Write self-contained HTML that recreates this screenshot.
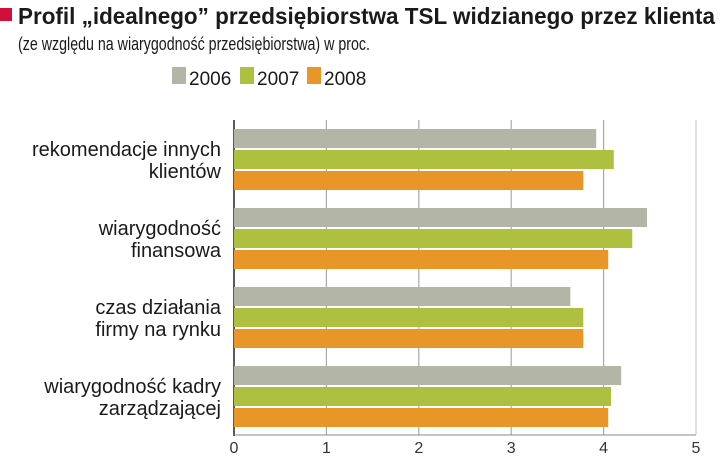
<!DOCTYPE html>
<html><head><meta charset="utf-8"><style>
body{margin:0;background:#fff;width:720px;height:458px;overflow:hidden}
svg{display:block;font-family:"Liberation Sans Narrow","Liberation Sans",sans-serif}
</style></head><body>
<svg id="chart" width="720" height="458" viewBox="0 0 720 458">
<rect x="0" y="8" width="12" height="13" fill="#d0103a"/>
<text x="18" y="24" font-size="23" font-weight="bold" fill="#1a1a1a" textLength="697" lengthAdjust="spacingAndGlyphs">Profil „idealnego” przedsiębiorstwa TSL widzianego przez klienta</text>
<text x="18" y="50" font-size="18" fill="#1a1a1a" textLength="352" lengthAdjust="spacingAndGlyphs">(ze względu na wiarygodność przedsiębiorstwa) w proc.</text>
<g id="legend"></g>
<g id="grid"></g>
<g id="bars"></g>
<g id="labels"></g>
</svg>
<script>
const categories=[["rekomendacje innych","klientów"],["wiarygodność","finansowa"],["czas działania","firmy na rynku"],["wiarygodność kadry","zarządzającej"]];
const seriesNames=["2006","2007","2008"];
const s2006=[3.92,4.47,3.64,4.19];
const s2007=[4.11,4.31,3.78,4.08];
const s2008=[3.78,4.05,3.78,4.05];
const ticks=[0,1,2,3,4,5];
const series=[s2006,s2007,s2008];
const colors=["#b3b5a6","#afc040","#e99629"];
const NS="http://www.w3.org/2000/svg";
const x0=234,x1=696,yTop=120,yBot=435,gStart=129,gStep=79,barH=19,barGap=2;
const xs=v=>x0+(v-ticks[0])/(ticks[ticks.length-1]-ticks[0])*(x1-x0);
function mk(tag,attrs,parent){const e=document.createElementNS(NS,tag);for(const k in attrs)e.setAttribute(k,attrs[k]);parent.appendChild(e);return e;}
const grid=document.getElementById('grid');
ticks.forEach((t,i)=>{
  if(i>0){const l=mk('line',{x1:xs(t),x2:xs(t),y1:yTop,y2:yBot,stroke:i===ticks.length-1?'#cfcfcf':'#a8a8a8','stroke-width':1.2},grid);
  
  }
  const tx=mk('text',{x:xs(t),y:453,'font-size':16,fill:'#333','text-anchor':'middle'},grid);
  tx.textContent=t;
  
  
});
const bars=document.getElementById('bars');
categories.forEach((c,ci)=>{
  series.forEach((s,si)=>{
    const y=gStart+ci*gStep+si*(barH+barGap);
    const r=mk('rect',{x:x0,y:y,width:xs(s[ci])-x0,height:barH,fill:colors[si]},bars);
    
    
  });
});
const ax=mk('line',{x1:x0,x2:x0,y1:yTop,y2:yBot+1,stroke:'#222','stroke-width':1.5},grid);


const bx=mk('line',{x1:x0,x2:x1,y1:yBot,y2:yBot,stroke:'#888','stroke-width':1},grid);


const labels=document.getElementById('labels');
categories.forEach((c,ci)=>{
  const cy=gStart+ci*gStep+30;
  c.forEach((line,li)=>{
    const t=mk('text',{x:221,y:cy-3+li*22,'font-size':20,fill:'#1a1a1a','text-anchor':'end'},labels);
    t.textContent=line;
    
    
  });
});
const legend=document.getElementById('legend');
const lx=[172,240,307];
seriesNames.forEach((n,i)=>{
  const r=mk('rect',{x:lx[i],y:67,width:14,height:17,fill:colors[i]},legend);
  
  
  const t=mk('text',{x:lx[i]+17,y:85,'font-size':19,fill:'#1a1a1a'},legend);
  t.textContent=n;
  
  
});
</script>
</body></html>
